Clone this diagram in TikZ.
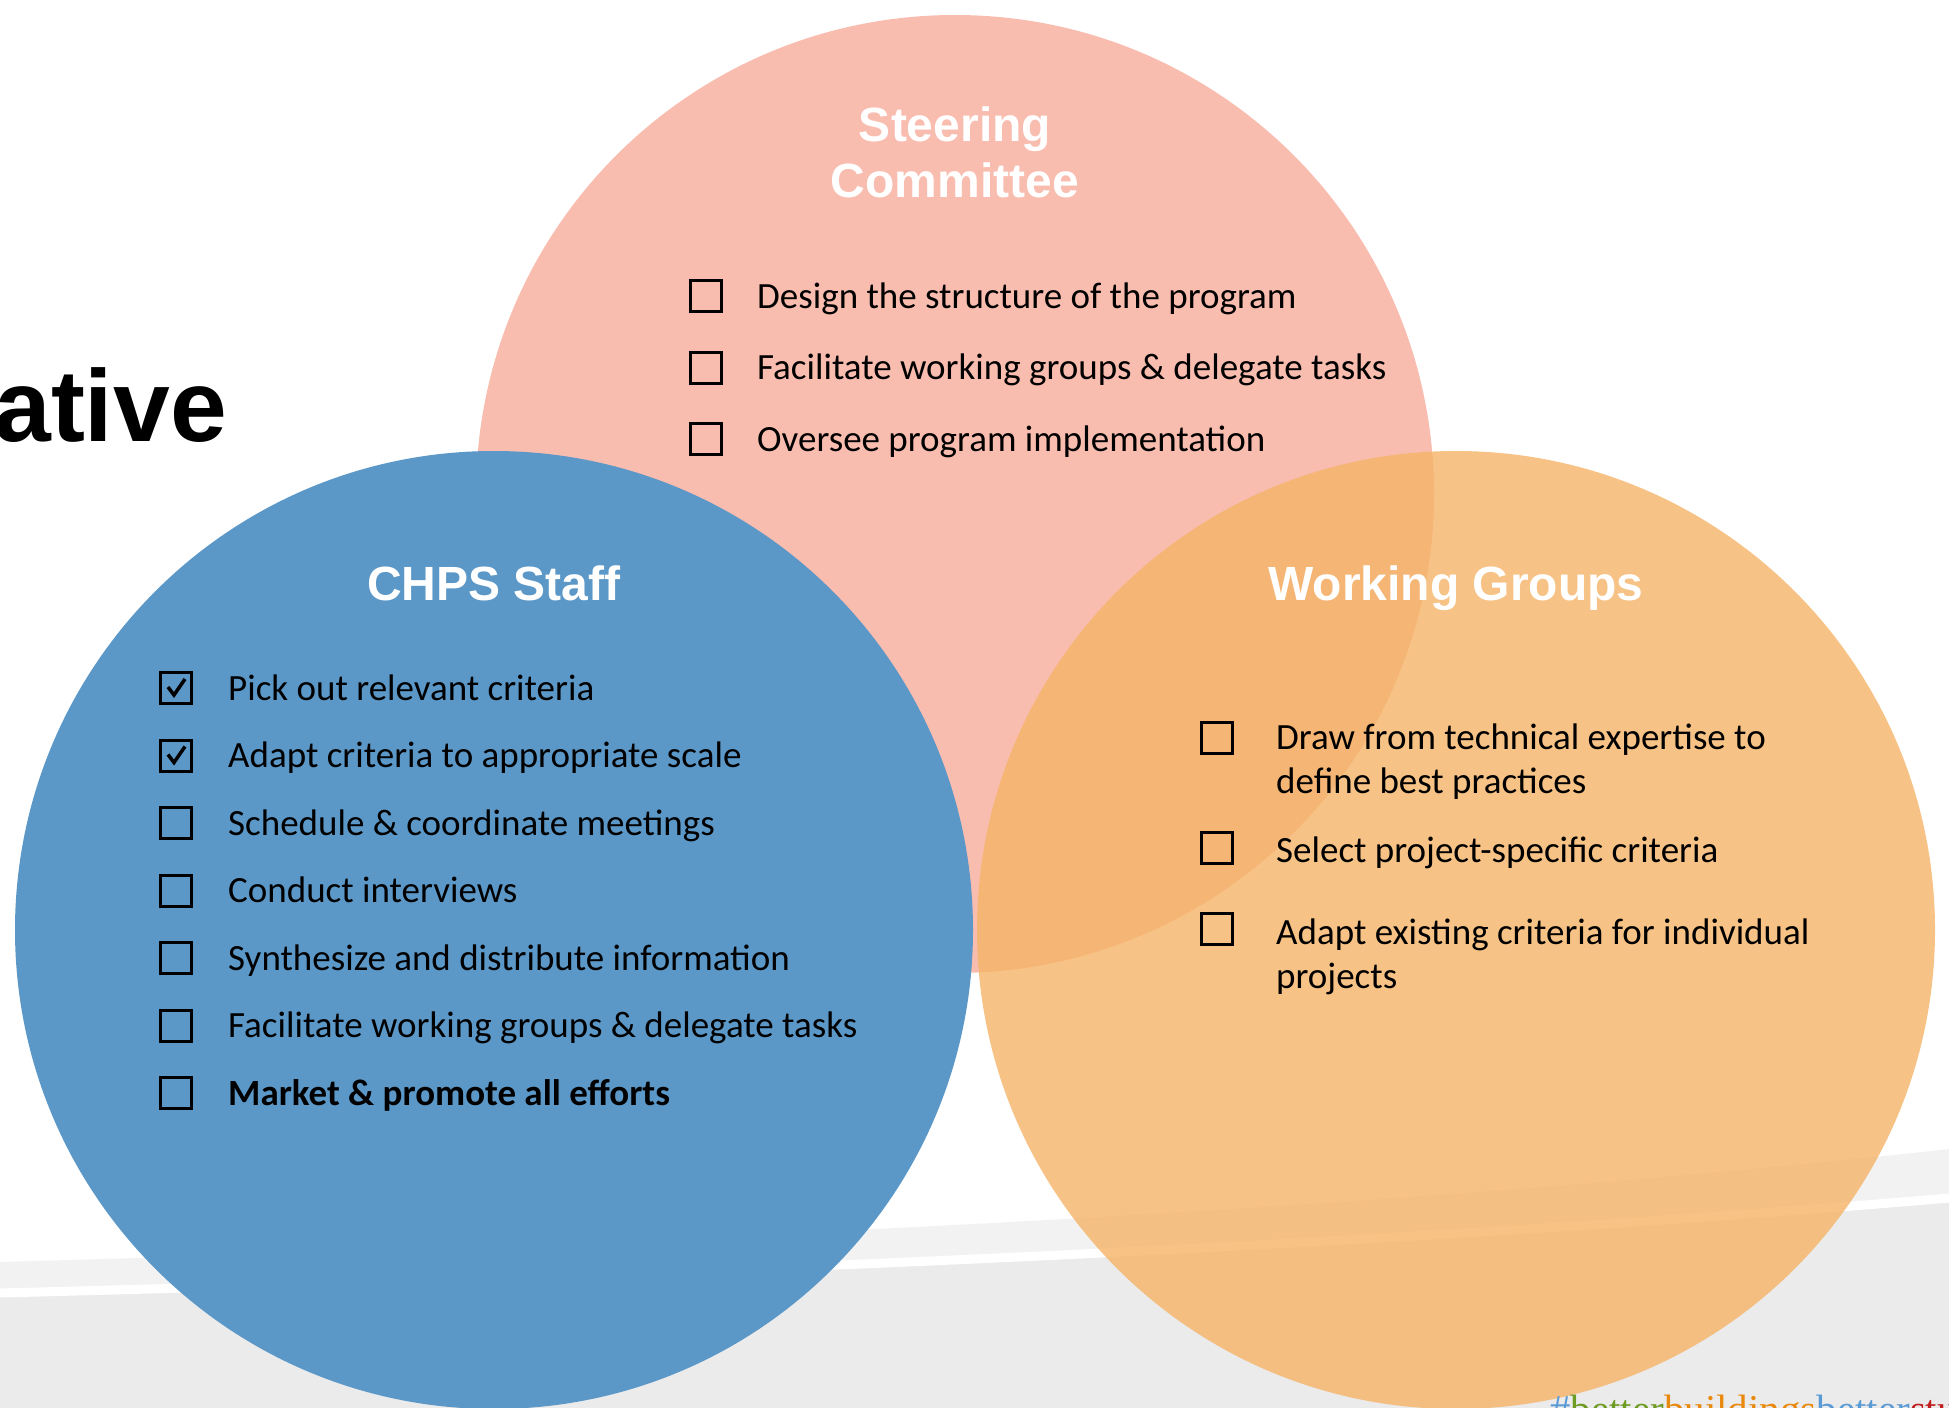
\documentclass[tikz,border=0pt]{standalone}
\usepackage{fontspec}
\setmainfont{Carlito}
\newfontfamily\headfont{Liberation Sans}
\newfontfamily\tagfont{Liberation Serif}
\usetikzlibrary{math}

\definecolor{steerpink}{HTML}{F9BDB0}
\definecolor{staffblue}{HTML}{5B98C8}
\definecolor{grouporange}{HTML}{F5B366}
\definecolor{bandlight}{HTML}{F2F2F2}
\definecolor{banddark}{HTML}{EBEBEB}
\definecolor{tagblue}{HTML}{5B9BD5}
\definecolor{taggreen}{HTML}{6E9C22}
\definecolor{tagorange}{HTML}{E8890C}
\definecolor{tagred}{HTML}{C0201F}

\tikzset{
    heading/.style={anchor=base, inner sep=0pt, text=white, font=\headfont\bfseries\fontsize{48}{56}\selectfont},
    item/.style={anchor=base west, inner sep=0pt, align=left, font=\fontsize{37}{44}\selectfont},
    chkbox/.style={draw=black, line width=3pt, minimum size=31pt, inner sep=0pt},
}

\begin{document}
\begin{tikzpicture}[x=1pt, y=-1pt]
    \tikzmath{
        \figweight=1949;
        \figheight=1408;
        \rad=479;
        \steerx=955; \steery=494;
        \staffx=494; \staffy=930;
        \groupx=1456; \groupy=930;
    }

    \useasboundingbox (0, 0) rectangle (\figweight, \figheight);
    \clip (0, 0) rectangle (\figweight, \figheight);

    % background band
    \fill [bandlight] (0, 1262) .. controls (700, 1242) and (1400, 1210) .. (\figweight, 1149)
        -- (\figweight, \figheight) -- (0, \figheight) -- cycle;
    \fill [banddark] (0, 1293) .. controls (700, 1275) and (1400, 1245) .. (\figweight, 1198)
        -- (\figweight, \figheight) -- (0, \figheight) -- cycle;
    \draw [white, line width=9pt] (0, 1293) .. controls (700, 1275) and (1400, 1245) .. (\figweight, 1198);

    % title rest
    \node [anchor=base east, inner sep=0pt, font=\headfont\bfseries\fontsize{102}{110}\selectfont] (title) at (227, 441) {ative};

    % circles
    \fill [steerpink] (\steerx, \steery) circle [radius=\rad];
    \fill [staffblue] (\staffx, \staffy) circle [radius=\rad];
    \fill [grouporange, fill opacity=0.8] (\groupx, \groupy) circle [radius=\rad];

    % Steering Committee
    \node [heading] (steer1) at (\steerx, 141) {Steering};
    \node [heading] (steer2) at (\steerx, 197) {Committee};
    \foreach \txt [count=\i] in {Design the structure of the program, Facilitate working groups \& delegate tasks, Oversee program implementation}{%
            \node [chkbox] (steerbox\i) at (706, {296+71.5*(\i-1)}) {};
            \node [item] (steeritem\i) at (757, {308+71.5*(\i-1)}) {\txt};
        }

    % CHPS Staff
    \node [heading] (staff) at (\staffx, 600) {CHPS Staff};
    \foreach \txt [count=\i] in {Pick out relevant criteria, Adapt criteria to appropriate scale, Schedule \& coordinate meetings, Conduct interviews, Synthesize and distribute information, Facilitate working groups \& delegate tasks, \textbf{Market \& promote all efforts}}{%
            \node [chkbox] (staffbox\i) at (176, {688+67.5*(\i-1)}) {};
            \node [item] (staffitem\i) at (228, {700+67.5*(\i-1)}) {\txt};
        }
    \foreach \i in {1, 2}{%
            \draw [line width=3.5pt] ([shift={(-8, -1)}] staffbox\i.center) -- ([shift={(-2, 7)}] staffbox\i.center) -- ([shift={(9, -9)}] staffbox\i.center);
        }

    % Working Groups
    \node [heading] (group) at (\groupx, 600) {Working Groups};
    \node [chkbox] (groupbox1) at (1217, 738) {};
    \node [item] (groupitem1) at (1276, 793) {Draw from technical expertise to\\define best practices};
    \node [chkbox] (groupbox2) at (1217, 848) {};
    \node [item] (groupitem2) at (1276, 862) {Select project-specific criteria};
    \node [chkbox] (groupbox3) at (1217, 929) {};
    \node [item] (groupitem3) at (1276, 988) {Adapt existing criteria for individual\\projects};

    % hashtag
    \node [anchor=base west, inner sep=0pt, font=\tagfont\fontsize{41}{48}\selectfont] (tag) at (1550, 1423)
        {\textcolor{tagblue}{\#}\textcolor{taggreen}{better}\textcolor{tagorange}{buildings}\textcolor{tagblue}{better}\textcolor{tagred}{stu}};
\end{tikzpicture}
\end{document}
